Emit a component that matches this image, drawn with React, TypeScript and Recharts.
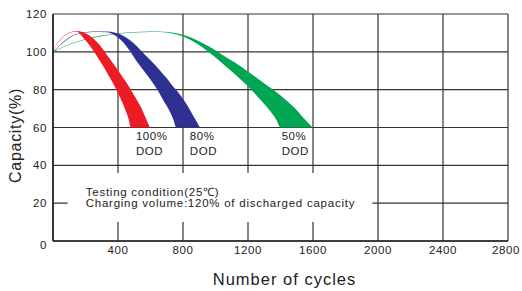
import {
  ComposedChart,
  Area,
  XAxis,
  YAxis,
  CartesianGrid,
  ReferenceArea,
  ReferenceDot,
} from "recharts";

// cycle life bands: each band lies between a lower (inner) and upper (outer) curve
const redCycles = [0, 20, 41, 80, 110, 144, 185, 220, 253, 290, 329, 360, 390, 420, 442, 465, 479, 510, 545, 570, 596];
const redUpper = [100, 103.8, 106.3, 109.3, 110.5, 111, 110.4, 108.9, 106.7, 103.3, 98.7, 95.0, 91.5, 87.8, 85.0, 82.0, 80.0, 75.4, 70.1, 65.2, 60];
const redLower = [99.7, 103.5, 106.0, 109.0, 110.2, 110.7, 107.6, 104, 100, 95, 89.5, 84.8, 80, 74.5, 70, 64.5, 60, 60, 60, 60, 60];

const blueCycles = [0, 41, 103, 164, 246, 330, 382, 429, 470, 516, 566, 606, 645, 682, 711, 740, 760, 795, 838, 870, 904];
const blueUpper = [100, 103.5, 107.8, 110, 110.8, 110.7, 110.1, 108.7, 106.4, 103, 98.5, 95.0, 91.4, 87.7, 84.9, 81.6, 79.7, 75.7, 70.1, 65.1, 60];
const blueLower = [99.7, 103.2, 107.5, 109.7, 110.5, 110.4, 108.7, 105.3, 100.8, 94.9, 89.2, 84.6, 79.6, 73.9, 69.8, 64.4, 60, 60, 60, 60, 60];

const greenCycles = [0, 50, 100, 200, 300, 400, 500, 600, 680, 740, 819, 892, 958, 1031, 1104, 1163, 1223, 1282, 1328, 1375, 1401, 1440, 1489, 1541, 1598];
const greenUpper = [100, 102.2, 104, 106.8, 108.6, 109.8, 110.5, 110.8, 110.6, 110.1, 108.5, 105.9, 102.9, 99.0, 95.1, 91.9, 88.2, 84.5, 81.5, 78.7, 76.9, 74.0, 70.2, 65.1, 60];
const greenLower = [99.7, 101.9, 103.7, 106.5, 108.3, 109.5, 110.2, 110.5, 110.3, 109.6, 107.5, 104.0, 99.9, 94.8, 89.3, 84.7, 79.7, 74.1, 69.6, 64, 60, 60, 60, 60, 60];

const xTicks = [400, 800, 1200, 1600, 2000, 2400, 2800];
const yTicks = [0, 20, 40, 60, 80, 100, 120];

const dodNotes = [
  { cycles: 510, capacity: 53.4, lines: ["100%", "DOD"] },
  { cycles: 842, capacity: 53.4, lines: ["80%", "DOD"] },
  { cycles: 1407, capacity: 53.4, lines: ["50%", "DOD"] },
];
const conditionLines = [
  "Testing condition(25\u2103)",
  "Charging volume:120% of discharged capacity",
];

const toBand = (cycles: number[], upper: number[], lower: number[]) =>
  cycles.map((c, i) => ({ cycles: c, band: [lower[i], upper[i]] }));

const redData = toBand(redCycles, redUpper, redLower);
const blueData = toBand(blueCycles, blueUpper, blueLower);
const greenData = toBand(greenCycles, greenUpper, greenLower);

const FONT = "'Liberation Sans', Arial, sans-serif";
const INK = "#222";

const NoteText = (props: any) => {
  const { viewBox, lines, gap, fontSize, spacing } = props;
  if (!viewBox) return null;
  return (
    <text
      x={viewBox.x}
      y={viewBox.y}
      fontFamily={FONT}
      fontSize={fontSize}
      letterSpacing={spacing}
      fill={INK}
    >
      {lines.map((l: string, i: number) => (
        <tspan key={i} x={viewBox.x} dy={i === 0 ? 0 : gap}>
          {l}
        </tspan>
      ))}
    </text>
  );
};

const XTick = (props: any) => {
  const { x, y, payload } = props;
  return (
    <text x={x} y={y} dy="0.71em" textAnchor="middle" fontFamily={FONT} fontSize={11.5} letterSpacing={0.6} fill={INK}>
      {payload.value}
    </text>
  );
};

const YTick = (props: any) => {
  const { x, y, payload } = props;
  return (
    <text
      x={x}
      y={y + (payload.value === 0 ? 4 : 0)}
      dy="0.355em"
      textAnchor="end"
      fontFamily={FONT}
      fontSize={11.5}
      letterSpacing={0.6}
      fill={INK}
    >
      {payload.value}
    </text>
  );
};

const XTitle = (props: any) => {
  const { viewBox } = props;
  if (!viewBox) return null;
  return (
    <text
      x={viewBox.x + viewBox.width / 2 + 4}
      y={viewBox.y + 43.5}
      textAnchor="middle"
      fontFamily={FONT}
      fontSize={16.5}
      letterSpacing={1}
      fill={INK}
    >
      Number of cycles
    </text>
  );
};

const YTitle = (props: any) => {
  const { viewBox } = props;
  if (!viewBox) return null;
  const cx = viewBox.x + 21;
  const cy = viewBox.y + viewBox.height / 2 + 8;
  return (
    <text
      x={cx}
      y={cy}
      transform={`rotate(-90 ${cx} ${cy})`}
      textAnchor="middle"
      fontFamily={FONT}
      fontSize={16}
      letterSpacing={0.7}
      fill={INK}
    >
      Capacity(%)
    </text>
  );
};

export default function App() {
  return (
    <div style={{ position: "absolute", left: 0, top: 0, background: "#fff" }}>
      <ComposedChart width={522} height={291} margin={{ top: 14, right: 14, left: 0, bottom: 0 }}>
        <CartesianGrid stroke="#333" strokeWidth={1.2} />
        <XAxis
          dataKey="cycles"
          type="number"
          domain={[0, 2800]}
          ticks={xTicks}
          allowDataOverflow
          height={50}
          tickLine={false}
          tickSize={0}
          tickMargin={4.5}
          axisLine={{ stroke: INK, strokeWidth: 1.6 }}
          tick={<XTick />}
          label={<XTitle />}
        />
        <YAxis
          type="number"
          domain={[0, 120]}
          ticks={yTicks}
          allowDataOverflow
          width={53}
          tickLine={false}
          tickSize={0}
          tickMargin={6}
          axisLine={{ stroke: INK, strokeWidth: 1.6 }}
          tick={<YTick />}
          label={<YTitle />}
        />
        <ReferenceArea x1={90} x2={1965} y1={10} y2={36} fill="#fff" fillOpacity={1} stroke="none" />
        <Area
          data={greenData}
          dataKey="band"
          type="monotone"
          fill="#00A651"
          fillOpacity={1}
          stroke="none"
          dot={false}
          activeDot={false}
          isAnimationActive={false}
        />
        <Area
          data={blueData}
          dataKey="band"
          type="monotone"
          fill="#2E3192"
          fillOpacity={1}
          stroke="none"
          dot={false}
          activeDot={false}
          isAnimationActive={false}
        />
        <Area
          data={redData}
          dataKey="band"
          type="monotone"
          fill="#ED1C24"
          fillOpacity={1}
          stroke="none"
          dot={false}
          activeDot={false}
          isAnimationActive={false}
        />
        {dodNotes.map((n) => (
          <ReferenceDot
            key={n.lines[0]}
            x={n.cycles}
            y={n.capacity}
            r={0}
            fill="none"
            stroke="none"
            label={<NoteText lines={n.lines} gap={15} fontSize={11.5} spacing={0.6} />}
          />
        ))}
        <ReferenceDot
          x={201.5}
          y={23.8}
          r={0}
          fill="none"
          stroke="none"
          label={<NoteText lines={conditionLines} gap={11} fontSize={11.5} spacing={0.75} />}
        />
      </ComposedChart>
    </div>
  );
}
